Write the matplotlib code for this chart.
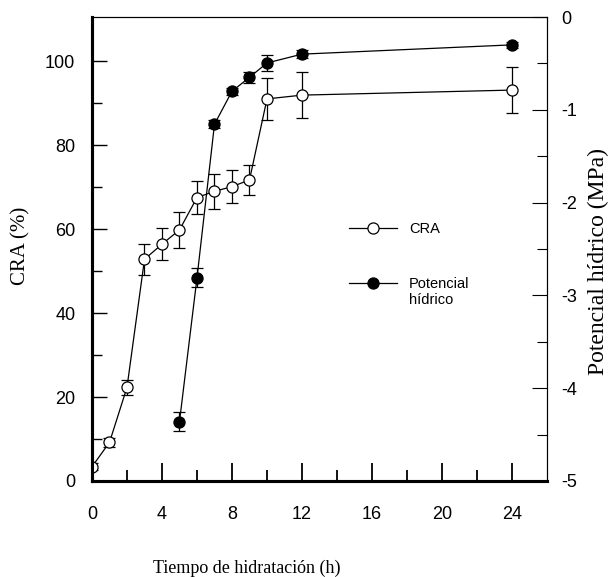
import matplotlib
matplotlib.use('Agg')
import matplotlib.pyplot as plt
from matplotlib.ticker import FixedLocator
from matplotlib.lines import Line2D
from matplotlib.legend_handler import HandlerLine2D

plt.rcParams['font.family'] = ['Liberation Sans', 'DejaVu Sans']
plt.rcParams['axes.unicode_minus'] = False

# %% data
hours_cra = [0, 1, 2, 3, 4, 5, 6, 7, 8, 9, 10, 12, 24]
cra = [3.4, 9.2, 22.3, 52.8, 56.4, 59.8, 67.5, 69.0, 70.1, 71.7, 91.0, 91.9, 93.1]
cra_err = [0.8, 1.0, 1.8, 3.7, 3.8, 4.2, 4.0, 4.2, 3.9, 3.5, 5.0, 5.5, 5.5]

hours_pot = [5, 6, 7, 8, 9, 10, 12, 24]
potencial = [-4.36, -2.81, -1.155, -0.80, -0.65, -0.495, -0.40, -0.30]
pot_err = [0.10, 0.10, 0.04, 0.04, 0.06, 0.085, 0.04, 0.03]

xlabel = 'Tiempo de hidratación (h)'
ylabel_left = 'CRA (%)'
ylabel_right = 'Potencial hídrico (MPa)'


class HandlerUp(HandlerLine2D):
    # put the marker next to the first line of a two-line label
    def __init__(self, shift, **kw):
        super().__init__(**kw)
        self.shift = shift

    def create_artists(self, legend, orig_handle, xdescent, ydescent,
                       width, height, fontsize, trans):
        return super().create_artists(legend, orig_handle, xdescent,
                                      ydescent - 2 * self.shift, width, height,
                                      fontsize, trans)


fig = plt.figure(figsize=(6.08, 5.77), dpi=100)
ax = fig.add_axes([0.1513, 0.1664, 0.7484, 0.8041])
ax2 = ax.twinx()

ax.errorbar(hours_cra, cra, yerr=cra_err, color='black', lw=0.9, elinewidth=0.9,
            capsize=4.5, capthick=0.9, marker='o', ms=8, mfc='white', mec='black',
            mew=0.9, zorder=3)
ax2.errorbar(hours_pot, potencial, yerr=pot_err, color='black', lw=0.9, elinewidth=0.9,
             capsize=4.5, capthick=0.9, marker='o', ms=8, mfc='black', mec='black',
             mew=0.9, zorder=3)

ax.set_xlim(0, 26)
ax.set_ylim(0, 110.5)
ax2.set_ylim(-5, 0)

ax.set_xticks([0, 4, 8, 12, 16, 20, 24])
ax.xaxis.set_minor_locator(FixedLocator([2, 6, 10, 14, 18, 22]))
ax.set_yticks([0, 20, 40, 60, 80, 100])
ax.yaxis.set_minor_locator(FixedLocator([10, 30, 50, 70, 90]))
ax2.set_yticks([-5, -4, -3, -2, -1, 0])
ax2.set_yticklabels(['-5', '-4', '-3', '-2', '-1', '0'])
ax2.yaxis.set_minor_locator(FixedLocator([-4.5, -3.5, -2.5, -1.5, -0.5]))

ax.tick_params(axis='x', which='major', direction='in', length=13, width=1.3,
               pad=18, labelsize=13)
ax.tick_params(axis='x', which='minor', direction='in', length=8, width=1.3)
ax.tick_params(axis='y', which='major', direction='in', length=11, width=1.0,
               pad=12, labelsize=13)
ax.tick_params(axis='y', which='minor', direction='in', length=7, width=1.0)
ax2.tick_params(axis='y', which='major', direction='in', length=11, width=0.8,
                pad=10, labelsize=13)
ax2.tick_params(axis='y', which='minor', direction='in', length=7, width=0.8)

for a in (ax, ax2):
    a.spines['left'].set_linewidth(2.2)
    a.spines['bottom'].set_linewidth(2.2)
    a.spines['top'].set_linewidth(0.8)
    a.spines['right'].set_linewidth(0.8)

h_cra = Line2D([], [], color='black', lw=0.9, marker='o', ms=8, mfc='white', mew=0.9)
h_pot = Line2D([], [], color='black', lw=0.9, marker='o', ms=8, mfc='black', mew=0.9)
leg = ax2.legend([h_cra, h_pot], ['CRA', 'Potencial\nhídrico'], loc='upper left',
                 bbox_to_anchor=(349 / 608, 1 - 222 / 577), bbox_transform=fig.transFigure,
                 frameon=False, prop={'family': 'Liberation Sans', 'size': 10.5},
                 handlelength=3.3, handletextpad=0.82,
                 labelspacing=2.8, borderpad=0, borderaxespad=0,
                 handler_map={h_pot: HandlerUp(shift=7)})

fig.text(247 / 608, 1 - 568 / 577, xlabel, family='Liberation Serif', size=13,
         ha='center', va='center')
fig.text(21 / 608, 1 - 246 / 577, ylabel_left, family='Liberation Serif', size=15,
         ha='center', va='center', rotation=90)
fig.text(598 / 608, 1 - 262 / 577, ylabel_right, family='Liberation Serif', size=17,
         ha='center', va='center', rotation=90)

fig.savefig('out.png', dpi=100)
